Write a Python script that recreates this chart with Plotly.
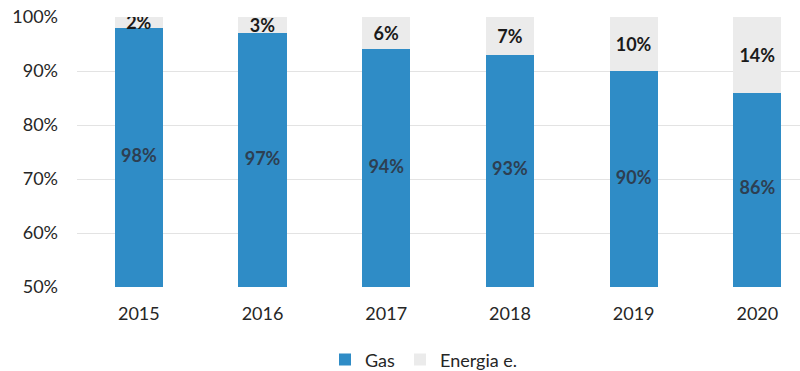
import plotly.graph_objects as go

years = ["2015", "2016", "2017", "2018", "2019", "2020"]
gas_share = [98, 97, 94, 93, 90, 86]
electric_share = [2, 3, 6, 7, 10, 14]

Y_MIN, Y_MAX = 50, 100
GAS_COLOR = "#2f8cc6"
ELEC_COLOR = "#ebebeb"
FONT = "Lato"

fig = go.Figure()
fig.add_trace(go.Bar(
    x=years, y=gas_share, name="Gas",
    marker=dict(color=GAS_COLOR, line=dict(width=0)),
    width=0.39, hovertemplate="%{x}: %{y}%<extra>Gas</extra>",
))
fig.add_trace(go.Bar(
    x=years, y=electric_share, name="Energia e.",
    marker=dict(color=ELEC_COLOR, line=dict(width=0)),
    text=[f"{v}%" for v in electric_share],
    textposition="inside", insidetextanchor="middle", constraintext="none",
    textfont=dict(family=FONT, size=18, color="#1a1a1a", weight="bold"),
    width=0.39, hovertemplate="%{x}: %{y}%<extra>Energia e.</extra>",
))
# Gas labels sit in the middle of the visible part of each bar (axis starts at 50%)
fig.add_trace(go.Scatter(
    x=years, y=[(Y_MIN + v) / 2 for v in gas_share],
    mode="text", text=[f"{v}%" for v in gas_share],
    textposition="middle center",
    textfont=dict(family=FONT, size=18, color="#2d3f52", weight="bold"),
    showlegend=False, hoverinfo="skip",
))

fig.update_layout(
    barmode="stack",
    width=800, height=371,
    margin=dict(l=77, r=0, t=17, b=84, autoexpand=False),
    paper_bgcolor="white", plot_bgcolor="white",
    font=dict(family=FONT, size=18, color="#262626"),
    showlegend=True,
    legend=dict(orientation="h", xref="container", x=0.53, xanchor="center",
                yref="container", y=0.03, yanchor="middle",
                font=dict(family=FONT, size=18, color="#262626"),
                itemwidth=30, traceorder="normal"),
    xaxis=dict(range=[-0.5, 5.345], showgrid=False, showline=False, ticks="",
               ticklabelstandoff=14, tickfont=dict(size=18)),
    yaxis=dict(range=[Y_MIN, Y_MAX], tickvals=[50, 60, 70, 80, 90, 100],
               ticktext=["50%", "60%", "70%", "80%", "90%", "100%"],
               showgrid=True, gridcolor="#e3e3e3", gridwidth=1,
               zeroline=False, showline=False, ticks="",
               ticklabelstandoff=18, tickfont=dict(size=18)),
)

fig.write_html("out.html")
